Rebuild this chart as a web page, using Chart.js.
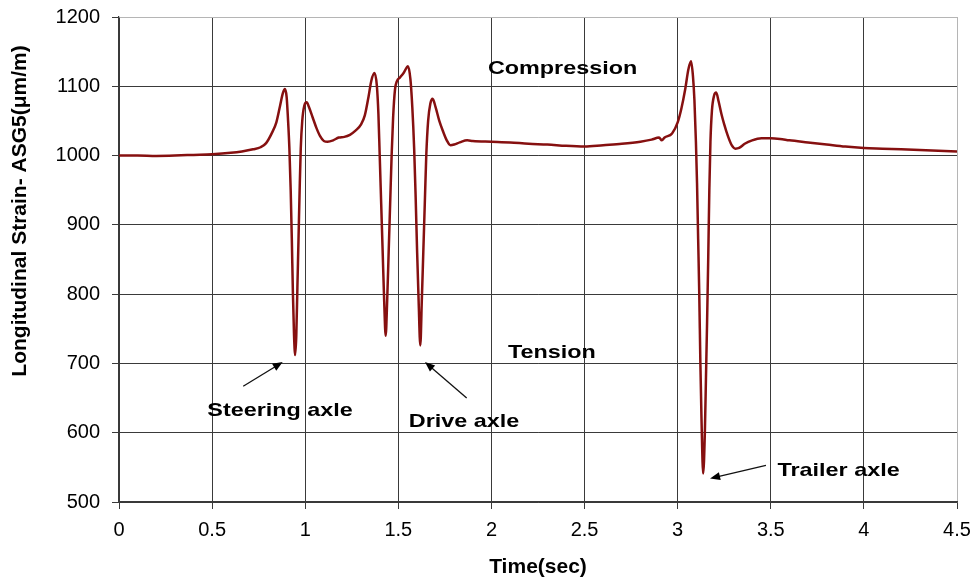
<!DOCTYPE html>
<html>
<head>
<meta charset="utf-8">
<title>Longitudinal strain ASG5</title>
<script src="https://cdn.jsdelivr.net/npm/chart.js@4.4.1/dist/chart.umd.min.js"></script>
<style>
  html, body { margin: 0; padding: 0; background: #fff; }
  #wrap { width: 973px; height: 581px; }
</style>
</head>
<body>
<div id="wrap"><canvas id="chart" width="973" height="581"></canvas></div>
<script>
// strain trace (time in sec, strain in µm/m)
const timeSec = [
  0.00, 0.10, 0.20, 0.30, 0.40, 0.50, 0.60, 0.66, 0.72, 0.76, 0.79, 0.82, 0.845, 0.865, 0.88, 0.891,
  0.90, 0.908, 0.915, 0.922, 0.928, 0.934, 0.940, 0.946, 0.952, 0.958, 0.964, 0.970, 0.976, 0.984, 0.995,
  1.008, 1.02, 1.04, 1.06, 1.08, 1.10, 1.12, 1.15, 1.18, 1.21, 1.24, 1.27, 1.30, 1.32, 1.34, 1.355, 1.372,
  1.385, 1.393, 1.400, 1.408, 1.416, 1.424, 1.432, 1.440, 1.448, 1.456, 1.464, 1.472, 1.482, 1.492, 1.51,
  1.53, 1.552, 1.565, 1.575, 1.585, 1.593, 1.601, 1.609, 1.618, 1.626, 1.634, 1.642, 1.650, 1.660, 1.672,
  1.684, 1.70, 1.72, 1.74, 1.76, 1.78, 1.80, 1.83, 1.87, 1.90, 2.0, 2.1, 2.2, 2.3, 2.4, 2.5, 2.6, 2.7, 2.8,
  2.86, 2.9, 2.915, 2.93, 2.97, 3.00, 3.02, 3.04, 3.058, 3.072, 3.082, 3.090, 3.098, 3.104, 3.110, 3.116,
  3.122, 3.128, 3.137, 3.146, 3.152, 3.158, 3.164, 3.170, 3.176, 3.184, 3.196, 3.207, 3.22, 3.235, 3.25,
  3.27, 3.29, 3.31, 3.33, 3.36, 3.40, 3.45, 3.50, 3.55, 3.6, 3.7, 3.8, 3.9, 4.0, 4.1, 4.2, 4.3, 4.4, 4.5
];
const strain = [
  1000, 1000, 999.5, 1000, 1001, 1002, 1004, 1006, 1009, 1012, 1018, 1032, 1048, 1072, 1090, 1096,
  1085, 1050, 1010, 950, 880, 800, 740, 712, 740, 810, 880, 950, 1010, 1050, 1072,
  1077, 1070, 1055, 1040, 1028, 1021, 1020, 1022, 1026, 1027, 1030, 1036, 1045, 1058, 1085, 1108, 1119,
  1100, 1060, 1000, 930, 860, 790, 740, 790, 860, 930, 1000, 1055, 1095, 1107, 1113,
  1120, 1129, 1110, 1070, 1010, 940, 860, 790, 726, 790, 860, 930, 1000, 1050, 1075,
  1082, 1070, 1050, 1035, 1022, 1015, 1016, 1019, 1022, 1021, 1020, 1019, 1017, 1016, 1014, 1013, 1015, 1017, 1020,
  1023, 1026, 1022, 1026, 1032, 1048, 1068, 1095, 1125, 1136, 1115, 1080, 1020, 960, 880, 800,
  700, 620, 541, 600, 680, 760, 850, 950, 1020, 1065, 1087, 1091, 1078, 1060, 1045,
  1028, 1015, 1010, 1011, 1017, 1022, 1025, 1025, 1024, 1022, 1019, 1016, 1013, 1011, 1010, 1009, 1008, 1007, 1006
];

const xTicksMax = 4.5;
const yTicksMin = 500, yTicksMax = 1200;

// text notes on the plot, placed in data units
const notes = [
  { text: 'Compression', x: 2.382, y: 1126 },
  { text: 'Tension', x: 2.325, y: 716 },
  { text: 'Steering axle', x: 0.865, y: 632 },
  { text: 'Drive axle', x: 1.853, y: 616 },
  { text: 'Trailer axle', x: 3.864, y: 545 }
];
const arrows = [
  { from: [0.667, 667], to: [0.879, 702] },
  { from: [1.867, 650], to: [1.643, 702] },
  { from: [3.474, 553], to: [3.174, 534] }
];

const FONT = '"Liberation Sans", Arial, Helvetica, sans-serif';

const annotate = {
  id: 'annotate',
  afterDraw(chart) {
    const { ctx, scales: { x, y }, chartArea } = chart;
    ctx.save();
    ctx.fillStyle = '#000';
    ctx.textAlign = 'center';
    ctx.textBaseline = 'middle';

    // notes (font is a bit wide in the source, so stretch horizontally)
    ctx.font = 'bold 19px ' + FONT;
    notes.forEach(n => {
      ctx.save();
      ctx.translate(x.getPixelForValue(n.x), y.getPixelForValue(n.y));
      ctx.scale(1.23, 1);
      ctx.fillText(n.text, 0, 0);
      ctx.restore();
    });

    // arrows
    ctx.strokeStyle = '#111';
    ctx.lineWidth = 1.3;
    arrows.forEach(a => {
      const x0 = x.getPixelForValue(a.from[0]), y0 = y.getPixelForValue(a.from[1]);
      const x1 = x.getPixelForValue(a.to[0]), y1 = y.getPixelForValue(a.to[1]);
      const ang = Math.atan2(y1 - y0, x1 - x0);
      ctx.beginPath();
      ctx.moveTo(x0, y0);
      ctx.lineTo(x1 - 6 * Math.cos(ang), y1 - 6 * Math.sin(ang));
      ctx.stroke();
      ctx.beginPath();
      ctx.moveTo(x1, y1);
      ctx.lineTo(x1 - 10 * Math.cos(ang) + 4 * Math.sin(ang), y1 - 10 * Math.sin(ang) - 4 * Math.cos(ang));
      ctx.lineTo(x1 - 10 * Math.cos(ang) - 4 * Math.sin(ang), y1 - 10 * Math.sin(ang) + 4 * Math.cos(ang));
      ctx.closePath();
      ctx.fill();
    });

    // axis titles
    ctx.font = 'bold 21px ' + FONT;
    ctx.fillText('Time(sec)', (chartArea.left + chartArea.right) / 2, 567);
    ctx.save();
    ctx.translate(20, 211);
    ctx.rotate(-Math.PI / 2);
    ctx.fillText('Longitudinal Strain- ASG5(\u03bcm/m)', 0, 0);
    ctx.restore();
    ctx.restore();
  }
};

const whiteBg = {
  id: 'whiteBg',
  beforeDraw(chart) {
    const c = chart.ctx;
    c.save();
    c.fillStyle = '#fff';
    c.fillRect(0, 0, chart.width, chart.height);
    c.restore();
  }
};

new Chart(document.getElementById('chart').getContext('2d'), {
  type: 'line',
  data: {
    datasets: [{
      label: 'ASG5',
      data: timeSec.map((t, i) => ({ x: t, y: strain[i] })),
      borderColor: '#861010',
      borderWidth: 2.5,
      pointRadius: 0,
      cubicInterpolationMode: 'monotone'
    }]
  },
  options: {
    responsive: false,
    animation: false,
    layout: { padding: { left: 0, top: 17, right: 16, bottom: 0 } },
    plugins: {
      legend: { display: false },
      tooltip: { enabled: false }
    },
    scales: {
      x: {
        type: 'linear',
        min: 0,
        max: xTicksMax,
        afterFit: s => { s.height = 79; s.paddingLeft = 0; s.paddingRight = 0; },
        ticks: {
          stepSize: 0.5, color: '#000', padding: 9,
          font: { family: FONT, size: 20 },
          callback: v => String(v)
        },
        grid: {
          color: c => c.tick && c.tick.value === xTicksMax ? '#b5b5b5' : '#3a3a3a',
          tickColor: '#3a3a3a',
          lineWidth: 1,
          tickLength: 7
        },
        border: { color: '#3a3a3a', width: 1.2 }
      },
      y: {
        min: yTicksMin,
        max: yTicksMax,
        afterFit: s => { s.width = 119; s.paddingTop = 0; s.paddingBottom = 0; },
        ticks: {
          stepSize: 100, color: '#000', padding: 12,
          font: { family: FONT, size: 20 },
          callback: v => String(v)
        },
        grid: {
          color: c => c.tick && c.tick.value === yTicksMax ? '#b5b5b5' : '#3a3a3a',
          tickColor: '#3a3a3a',
          lineWidth: 1,
          tickLength: 7
        },
        border: { color: '#3a3a3a', width: 1.2 }
      }
    }
  },
  plugins: [whiteBg, annotate]
});
</script>
</body>
</html>
